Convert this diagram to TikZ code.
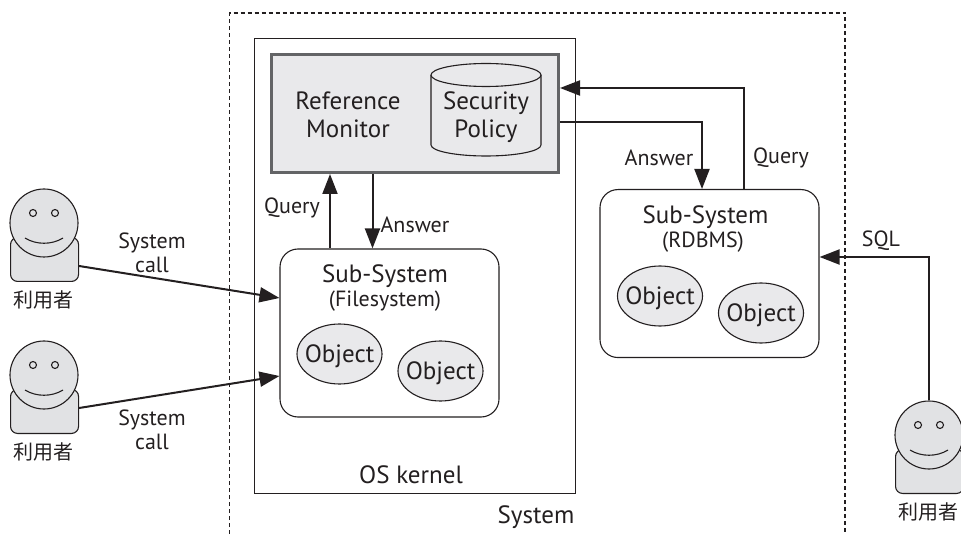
\documentclass[tikz,border=0pt]{standalone}
\usepackage{fontspec}
\setmainfont{PT Sans}
\newfontfamily\cjk{Noto Sans CJK JP}
\usetikzlibrary{arrows.meta,calc,shapes.geometric}
\definecolor{ink}{HTML}{231F20}
\definecolor{lite}{HTML}{E1E2E4}
\definecolor{pane}{HTML}{E9E9EB}
\definecolor{rim}{HTML}{636466}
\tikzset{
  txt/.style={text=ink,inner sep=0pt,align=center,font=\fontsize{25}{28.5}\selectfont},
  small/.style={text=ink,inner sep=0pt,align=center,font=\fontsize{22}{24}\selectfont},
  lab/.style={text=ink,inner sep=0pt,align=center,font=\fontsize{22}{24}\selectfont},
  boxed/.style={draw=ink,line width=1.1pt,anchor=north west,inner sep=0pt},
  obj/.style={draw=ink,line width=1.1pt,fill=pane,ellipse,inner sep=0pt,minimum width=85pt,minimum height=60pt},
  objtext/.style={text=ink,inner sep=0pt,yshift=-2pt,font=\fontsize{25}{24}\selectfont},
  conn/.style={draw=ink,line width=2pt,-{Triangle[length=20pt,width=15pt]}},
  jp/.style={text=ink,inner sep=0pt,font=\cjk\fontsize{20}{24}\selectfont},
  person/.style={draw=ink,line width=1.1pt,fill=lite},
}
\newcommand{\usr}[3]{%
  \node[person,rounded corners=7pt,minimum width=68pt,minimum height=44pt,inner sep=0pt,anchor=south west] (#1b) at (#2-34,#3+59) {};
  \node[person,circle,minimum size=68pt,inner sep=0pt] (#1h) at (#2,#3) {};
  \node[person,circle,fill=lite,minimum size=7pt,inner sep=0pt] (#1l) at (#2-11,#3-10) {};
  \node[person,circle,fill=lite,minimum size=7pt,inner sep=0pt] (#1r) at (#2+11,#3-10) {};
  \draw[draw=ink,line width=1.1pt] (#2-19,#3+15) .. controls (#2-8,#3+22) and (#2+8,#3+22) .. (#2+19,#3+15);
  \node[jp] (#1t) at (#2-1,#3+77) {利用者};
}
\begin{document}
\begin{tikzpicture}[x=1pt,y=-1pt]
\useasboundingbox (0,0) rectangle (961,534);
% outer dashed system boundary
\coordinate (sysA) at (229.5,534);
\coordinate (sysB) at (229.5,13);
\coordinate (sysC) at (845,13);
\coordinate (sysD) at (845,534);
\draw[draw=ink,line width=1.1pt,dash pattern=on 4pt off 3pt] (sysA) -- (sysB) -- (sysC) -- (sysD);
% kernel
\node[boxed,minimum width=321pt,minimum height=455pt] (kernel) at (253.95,37.95) {};
\node[txt] (kernellabel) at (411,475) {OS kernel};
\node[txt] (systemlabel) at (536,517) {System};
% reference monitor
\node[boxed,draw=rim,line width=3.4pt,fill=pane,minimum width=286.6pt,minimum height=117.6pt] (monitor) at (270,53) {};
\node[txt] (rmtext) at (348,115) {Reference\\Monitor};
\draw[draw=ink,line width=1.1pt,fill=pane] (431,75) -- (431,145) arc[start angle=180,end angle=360,x radius=55,y radius=-11] -- (541,75);
\node[draw=ink,line width=1.1pt,fill=pane,ellipse,minimum width=110pt,minimum height=23pt,inner sep=0pt] (cyltop) at (486,75) {};
\node[txt] (policy) at (486,117) {Security\\Policy};
% subsystems
\node[boxed,fill=white,rounded corners=18pt,minimum width=219pt,minimum height=168pt] (fs) at (279.45,248.45) {};
\node[txt] (fstitle) at (385,276) {Sub-System};
\node[small] (fssub) at (385,301) {(Filesystem)};
\node[obj,label={[objtext]center:Object}] (o1) at (339.5,354) {};
\node[obj,label={[objtext]center:Object}] (o2) at (440.5,371) {};
\node[boxed,fill=white,rounded corners=18pt,minimum width=219pt,minimum height=168pt] (db) at (599.45,189) {};
\node[txt] (dbtitle) at (705.5,217) {Sub-System};
\node[small] (dbsub) at (703,242) {(RDBMS)};
\node[obj,label={[objtext]center:Object}] (o3) at (660,296) {};
\node[obj,label={[objtext]center:Object}] (o4) at (761,313) {};
% users
\usr{ua}{44}{223}
\usr{ub}{44}{375}
\usr{uc}{929}{435}
% connectors
\draw[conn] (uab.east |- 0,266) -- (fs.west |- 0,298);
\draw[conn] (ubb.east |- 0,408) -- (fs.west |- 0,376);
\draw[conn] (fs.north -| 330,0) -- (monitor.south -| 330,0);
\draw[conn] (monitor.south -| 372.5,0) -- (fs.north -| 372.5,0);
\draw[conn] (monitor.east |- 0,122) -| (db.north -| 702,0);
\draw[conn] (db.north -| 743.5,0) |- (monitor.east |- 0,88);
\draw[conn] (uch.north) |- (db.east |- 0,257);
% labels
\node[lab] (l1) at (152,253) {System\\call};
\node[lab] (l2) at (152,430) {System\\call};
\node[lab] (l3) at (292,208) {Query};
\node[lab] (l4) at (415,225) {Answer};
\node[lab] (l5) at (659,158) {Answer};
\node[lab] (l6) at (781,158) {Query};
\node[lab] (l7) at (881,241) {SQL};
\end{tikzpicture}
\end{document}
